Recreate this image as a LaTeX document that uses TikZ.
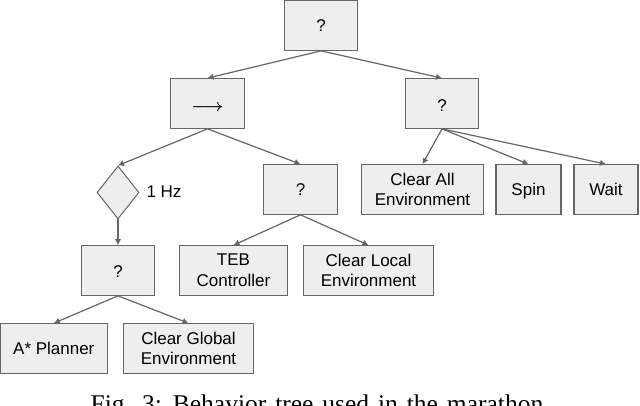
\documentclass[tikz,border=0pt]{standalone}
\usepackage{amsmath}
\usepackage{fontspec}
\usepackage{tikz}
\usetikzlibrary{shapes,arrows,arrows.meta}
\setmainfont{Liberation Sans}
\newfontfamily\capfont[WordSpace=1.4]{Liberation Serif}
\definecolor{boxgray}{HTML}{EEEEEE}
\definecolor{linegray}{HTML}{666666}

\begin{document}
\begin{tikzpicture}[->,>={Latex[length=6pt,width=6.5pt]},line width=1.2pt,node distance=78pt]
\tikzstyle{every node}=[font=\fontsize{17}{20.7}\selectfont,text=black]
\tikzstyle{every edge}=[draw=linegray]
\tikzstyle{box}=[rectangle,draw=linegray,fill=boxgray,inner sep=0pt,minimum height=49.5pt,minimum width=73.5pt]
\tikzstyle{twoline}=[box,align=center]
\useasboundingbox (0pt,0pt) rectangle (640pt,-406pt);
\node[box] (root) at (321pt,-25.5pt) {?};
\node[box,text height=15.5pt,text depth=0pt][below of=root,xshift=-113.5pt] (seq) {\mbox{\boldmath$\longrightarrow$}};
\node[box,text height=15.2pt,text depth=0pt][below of=root,xshift=121pt] (fallback) {?};
\node[box][below of=fallback,xshift=-141.5pt,yshift=-8pt] (recover) {?};
\node[twoline,minimum width=121.5pt][below of=fallback,xshift=-19.5pt,yshift=-8pt] (clearall) {Clear All\\Environment};
\node[box,minimum width=65pt,text height=13pt,text depth=0pt][below of=fallback,xshift=86.5pt,yshift=-8pt] (spin) {Spin};
\node[box,minimum width=64pt][below of=fallback,xshift=164pt,yshift=-8pt] (wait) {Wait};
\node[diamond,draw=linegray,fill=boxgray,line width=1pt,inner sep=0pt,minimum width=42pt,minimum height=53pt] (rate) at (118pt,-192.5pt) {};
\node[right of=rate,node distance=46pt,yshift=0.5pt] (ratelabel) {1 Hz};
\node[box,text height=14.3pt,text depth=0pt][below of=rate] (planning) {?};
\node[twoline,minimum width=108pt][right of=planning,node distance=115.5pt] (teb) {TEB\\Controller};
\node[twoline,minimum width=130pt][right of=teb,node distance=135pt] (clearlocal) {Clear Local\\Environment};
\node[box,minimum width=107.5pt][below of=planning,xshift=-64.2pt] (astar) {A* Planner};
\node[twoline,minimum width=130pt][below of=planning,xshift=70.5pt] (clearglobal) {Clear Global\\Environment};
\node[font=\capfont\fontsize{25.5}{28}\selectfont,anchor=base west,inner sep=0pt] (caption) at (90pt,-412pt) {Fig. 3: Behavior tree used in the marathon.};
\path (root.south) edge (seq.north)
                edge (fallback.north)
          (seq.south) edge (rate.north)
                edge (recover.north)
          (fallback.south) edge (clearall.north)
                edge (spin.north)
                edge (wait.north)
          (rate.south) edge (planning.north)
          (recover.south) edge (teb.north)
                edge (clearlocal.north)
          (planning.south) edge (astar.north)
                edge (clearglobal.north);
\end{tikzpicture}
\end{document}
